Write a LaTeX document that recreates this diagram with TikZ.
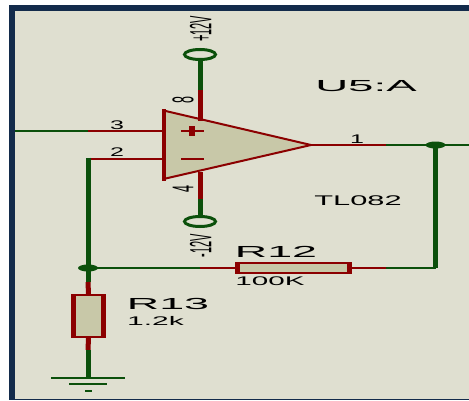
\documentclass[tikz,border=0pt]{standalone}
\usepackage{fontspec}
\setmainfont{Liberation Sans}
\usetikzlibrary{shapes.geometric}
\definecolor{sheet}{HTML}{DFDFD0}
\definecolor{frame}{HTML}{132B4B}
\definecolor{body}{HTML}{C8C8A8}
\definecolor{pinred}{HTML}{8B0000}
\definecolor{wiregreen}{HTML}{0B500B}
\tikzset{
  pin/.style={pinred,line width=2pt},
  thickpin/.style={pinred,line width=5pt},
  wire/.style={wiregreen,line width=2pt},
  thickwire/.style={wiregreen,line width=5pt},
  res/.style={fill=pinred,inner sep=0pt,outer sep=0pt},
  junction/.style={ellipse,fill=wiregreen,inner sep=0pt,minimum width=20pt,minimum height=7pt},
  terminal/.style={ellipse,draw=wiregreen,fill=sheet,line width=3pt,inner sep=0pt,minimum width=31pt,minimum height=10pt},
  lbl/.style={inner sep=0pt,text=black,transform shape,xscale=#1},
  pinlbl/.style={inner sep=0pt,text=black,font=\fontsize{12.5}{12.5}\selectfont,transform shape,xscale=#1}
}
\begin{document}
\begin{tikzpicture}[x=1pt,y=1pt]
    \useasboundingbox (0,0) rectangle (469,400);

    % Sheet and frame
    \fill[white] (0,0) rectangle (469,400);
    \fill[frame] (9,0) rectangle (469,395);
    \fill[sheet] (15,1) rectangle (469,389);

    % Op amp
    \coordinate (topleft) at (163.5,289.5);
    \coordinate (botleft) at (163.5,221);
    \coordinate (tip) at (311,255);
    \coordinate (inp) at (163.5,269);
    \coordinate (inm) at (163.5,241.5);
    \coordinate (vplus) at (200,279);
    \coordinate (vminus) at (200,228);
    \fill[body] (topleft) -- (tip) -- (botleft) -- cycle;
    \draw[pinred,line width=2pt] (topleft) -- (tip) -- (botleft);
    \draw[pinred,line width=4pt,line cap=rect] (topleft) -- (botleft);
    \draw[pinred,line width=2pt] (181,269) -- (204,269);
    \fill[pinred] (189,264) rectangle (195,274);
    \draw[pinred,line width=2pt] (181,241.5) -- (204,241.5);

    % Supply terminals
    \node[terminal] (plus12) at (200,345.5) {};
    \node[terminal] (minus12) at (200,178.5) {};
    \coordinate (plusbreak) at (200,310);
    \coordinate (minusbreak) at (200,201);
    \draw[thickwire] (plus12.south) -- (plusbreak);
    \draw[thickpin] (plusbreak) -- (vplus);
    \draw[thickpin] (vminus) -- (minusbreak);
    \draw[thickwire] (minusbreak) -- (minus12.north);

    % Inputs
    \coordinate (instart) at (15,269);
    \coordinate (inbreak) at (88,269);
    \coordinate (fbtop) at (88,241.5);
    \draw[wire] (instart) -- (inbreak);
    \draw[pin] (inbreak) -- (inp);
    \draw[pin] (fbtop) -- (inm);

    % Resistors
    \node[res,minimum width=117pt,minimum height=12.5pt] (R12) at (293.5,132) {};
    \node[res,minimum width=35pt,minimum height=44pt] (R13) at (88.5,84) {};
    \fill[body] ([xshift=5pt,yshift=-2.2pt]R12.north west) rectangle ([xshift=-5pt,yshift=2.2pt]R12.south east);
    \fill[body] ([xshift=5pt,yshift=-2.2pt]R13.north west) rectangle ([xshift=-5pt,yshift=2.2pt]R13.south east);

    % Junctions
    \node[junction] (outdot) at (435.5,255) {};
    \node[junction] (fbdot) at (88,132) {};
    \coordinate (outbreak) at (386,255);
    \coordinate (outend) at (469,255);
    \coordinate (fbcorner) at (435.5,132);
    \coordinate (r12leftbreak) at (200,132);
    \coordinate (r12rightbreak) at (386,132);
    \coordinate (r13topbreak) at (88,118);
    \coordinate (r13botbreak) at (88,50);

    % Output and feedback
    \draw[pin] (tip) -- (outbreak);
    \draw[wire] (outbreak) -- (outend);
    \draw[thickwire] (outdot.center) -- (fbcorner);
    \draw[wire] (fbcorner) -- (r12rightbreak);
    \draw[pin] (r12rightbreak) -- (R12.east);
    \draw[pin] (R12.west) -- (r12leftbreak);
    \draw[wire] (r12leftbreak) -- (fbdot.center);
    \draw[thickwire] ([yshift=1pt]fbtop) -- (fbdot.center) -- (r13topbreak);
    \draw[thickpin] (r13topbreak) -- (R13.north);
    \draw[thickpin] (R13.south) -- (r13botbreak);

    % Ground
    \coordinate (gnd) at (88,22.5);
    \draw[thickwire] (r13botbreak) -- (gnd);
    \draw[wire] (51,22.5) -- (125,22.5);
    \draw[wire] (69,16) -- (107,16);
    \draw[wire] (85,9) -- (92,9);

    % Labels
    \node[lbl=2.85,font=\fontsize{16}{16}\selectfont] (u5) at (366,314) {U5:A};
    \node[lbl=2.2,font=\fontsize{14}{14}\selectfont] (tl082) at (358,199.5) {TL082};
    \node[lbl=2.8,font=\fontsize{16}{16}\selectfont] (r12name) at (276,148) {R12};
    \node[lbl=2.37,font=\fontsize{12.5}{12.5}\selectfont] (r12val) at (270,119) {100K};
    \node[lbl=2.8,font=\fontsize{16}{16}\selectfont] (r13name) at (168,96) {R13};
    \node[lbl=2.4,font=\fontsize{12.5}{12.5}\selectfont] (r13val) at (155.5,79) {1.2k};
    \node[pinlbl=2] (p3) at (117,275) {3};
    \node[pinlbl=2] (p2) at (117,247.5) {2};
    \node[pinlbl=2] (p1) at (357,261) {1};
    \node[pinlbl=2.4,rotate=90] (p8) at (183,300) {8};
    \node[pinlbl=2.4,rotate=90] (p4) at (183,211) {4};
    \node[lbl=2.8,rotate=90,font=\fontsize{11}{11}\selectfont] (vp) at (200.5,371) {+12V};
    \node[lbl=2.8,rotate=90,font=\fontsize{11}{11}\selectfont] (vm) at (200.5,154) {-12V};
\end{tikzpicture}
\end{document}
